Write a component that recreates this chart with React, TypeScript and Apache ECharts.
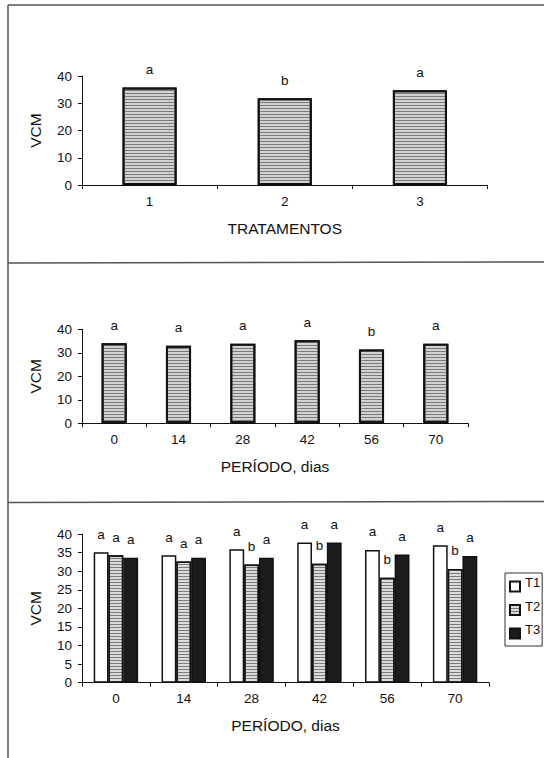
import React, { useEffect, useRef } from "react";
import * as echarts from "echarts";

// Panel 1: treatments
const treatments = ["1", "2", "3"];
const vcmByTreatment = [35.8, 31.8, 34.8];
const treatmentLetters = ["a", "b", "a"];

// Panel 2: periods
const periods = ["0", "14", "28", "42", "56", "70"];
const vcmByPeriod = [34.1, 33.0, 33.9, 35.3, 31.4, 33.8];
const periodLetters = ["a", "a", "a", "a", "b", "a"];

// Panel 3: treatment x period
const groupNames = ["T1", "T2", "T3"];
const vcmT1 = [35.1, 34.3, 35.9, 37.7, 35.7, 37.0];
const vcmT2 = [34.3, 32.6, 31.8, 32.0, 28.2, 30.6];
const vcmT3 = [33.6, 33.6, 33.6, 37.7, 34.5, 34.1];
const lettersT1 = ["a", "a", "a", "a", "a", "a"];
const lettersT2 = ["a", "a", "b", "b", "b", "b"];
const lettersT3 = ["a", "a", "a", "a", "a", "a"];

const yTicks10 = { min: 0, max: 40, interval: 10 };
const yTicks5 = { min: 0, max: 40, interval: 5 };

const FONT = "'Liberation Sans', Arial, sans-serif";
const INK = "#111";

const hatch = {
  symbol: "rect",
  symbolSize: 1,
  symbolKeepAspect: false,
  dashArrayX: [[1, 0]],
  dashArrayY: [1, 2],
  color: "#7a7a7a",
  rotation: 0,
};

function letterLabel(letters: string[]) {
  return {
    show: true,
    position: "top",
    distance: 11,
    fontSize: 13.5,
    color: INK,
    fontFamily: FONT,
    formatter: (p: any) => letters[p.dataIndex],
  };
}

function xAxisFor(gridIndex: number, data: string[], name: string) {
  return {
    type: "category",
    gridIndex,
    data,
    name,
    nameLocation: "middle",
    nameGap: 35,
    nameTextStyle: { fontSize: 15.5, color: INK, fontFamily: FONT },
    boundaryGap: true,
    axisLine: { show: true, lineStyle: { color: INK, width: 1 } },
    axisTick: { show: true, length: 4, lineStyle: { color: INK } },
    axisLabel: { fontSize: 13.5, color: INK, margin: 9, fontFamily: FONT },
    splitLine: { show: false },
  };
}

function yAxisFor(gridIndex: number, ticks: { min: number; max: number; interval: number }) {
  return {
    type: "value",
    gridIndex,
    min: ticks.min,
    max: ticks.max,
    interval: ticks.interval,
    name: "VCM",
    nameLocation: "middle",
    nameRotate: 90,
    nameGap: 39,
    nameTextStyle: { fontSize: 15.5, color: INK, fontFamily: FONT },
    axisLine: { show: true, lineStyle: { color: INK, width: 1 } },
    axisTick: { show: true, length: 4, lineStyle: { color: INK } },
    axisLabel: { fontSize: 13.5, color: INK, margin: 10, fontFamily: FONT },
    splitLine: { show: false },
  };
}

const frameStyle = { stroke: "#555", lineWidth: 1.5 };

const option: any = {
  animation: false,
  backgroundColor: "#fff",
  textStyle: { fontFamily: FONT, color: INK },
  graphic: [
    { type: "line", shape: { x1: 8, y1: 5, x2: 544, y2: 5 }, style: frameStyle, silent: true },
    { type: "line", shape: { x1: 8, y1: 5, x2: 8, y2: 758 }, style: frameStyle, silent: true },
    { type: "line", shape: { x1: 8, y1: 263, x2: 544, y2: 262 }, style: frameStyle, silent: true },
    { type: "line", shape: { x1: 8, y1: 502.5, x2: 544, y2: 501.5 }, style: frameStyle, silent: true },
  ],
  grid: [
    { left: 82, top: 76, width: 405.5, height: 109 },
    { left: 82, top: 329.3, width: 386, height: 94 },
    { left: 82, top: 534, width: 407, height: 148.7 },
  ],
  xAxis: [
    xAxisFor(0, treatments, "TRATAMENTOS"),
    xAxisFor(1, periods, "PERÍODO, dias"),
    xAxisFor(2, periods, "PERÍODO, dias"),
  ],
  yAxis: [yAxisFor(0, yTicks10), yAxisFor(1, yTicks10), yAxisFor(2, yTicks5)],
  legend: {
    data: groupNames,
    orient: "vertical",
    left: 505,
    top: 573,
    padding: [3, 2, 2, 4],
    itemWidth: 10,
    itemHeight: 10,
    itemGap: 2.5,
    selectedMode: false,
    borderColor: "#333",
    borderWidth: 1,
    icon: "rect",
    formatter: "{t|{name}}",
    textStyle: {
      fontSize: 13,
      color: INK,
      fontFamily: FONT,
      rich: {
        t: { fontSize: 13, color: INK, fontFamily: FONT, lineHeight: 13, padding: [0, 0, 8, 0] },
      },
    },
  },
  series: [
    {
      name: "VCM tratamentos",
      type: "bar",
      xAxisIndex: 0,
      yAxisIndex: 0,
      data: vcmByTreatment,
      barWidth: "40%",
      itemStyle: { color: "#d2d2d2", borderColor: INK, borderWidth: 2, decal: hatch },
      label: letterLabel(treatmentLetters),
    },
    {
      name: "VCM período",
      type: "bar",
      xAxisIndex: 1,
      yAxisIndex: 1,
      data: vcmByPeriod,
      barWidth: "39%",
      itemStyle: { color: "#d2d2d2", borderColor: INK, borderWidth: 2, decal: hatch },
      label: letterLabel(periodLetters),
    },
    {
      name: groupNames[0],
      type: "bar",
      xAxisIndex: 2,
      yAxisIndex: 2,
      data: vcmT1,
      barGap: "0%",
      barCategoryGap: "34.5%",
      itemStyle: { color: "#ffffff", borderColor: INK, borderWidth: 1.5 },
      label: letterLabel(lettersT1),
    },
    {
      name: groupNames[1],
      type: "bar",
      xAxisIndex: 2,
      yAxisIndex: 2,
      data: vcmT2,
      barGap: "0%",
      barCategoryGap: "34.5%",
      itemStyle: { color: "#dcdcdc", borderColor: INK, borderWidth: 1.5, decal: hatch },
      label: letterLabel(lettersT2),
    },
    {
      name: groupNames[2],
      type: "bar",
      xAxisIndex: 2,
      yAxisIndex: 2,
      data: vcmT3,
      barGap: "0%",
      barCategoryGap: "34.5%",
      itemStyle: { color: "#1c1c1c", borderColor: INK, borderWidth: 1.5 },
      label: letterLabel(lettersT3),
    },
  ],
};

export default function App() {
  const ref = useRef<HTMLDivElement>(null);
  useEffect(() => {
    document.body.style.background = "#fff";
    const chart = echarts.init(ref.current as HTMLDivElement, null, { renderer: "svg" });
    chart.setOption(option);
    return () => chart.dispose();
  }, []);
  return (
    <div
      ref={ref}
      style={{ position: "absolute", left: 0, top: 0, width: 544, height: 758, background: "#fff" }}
    />
  );
}
